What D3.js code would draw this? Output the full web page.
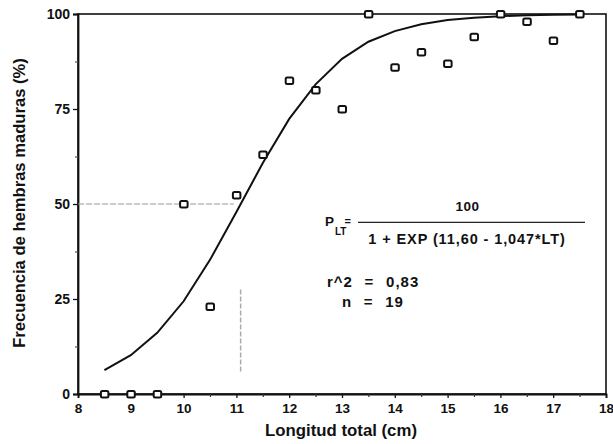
<!DOCTYPE html>
<html><head><meta charset="utf-8">
<script src="https://cdn.jsdelivr.net/npm/d3@7"></script>
<style>
body{margin:0;background:#fff;}
text{font-family:"Liberation Sans",Arial,sans-serif;font-weight:bold;fill:#111;}
</style></head><body>
<svg id="c" width="613" height="444"></svg>
<script>
// Observed data: length (cm) and % mature females
const lengths = [8.5,9,9.5,10,10.5,11,11.5,12,12.5,13,13.5,14,14.5,15,15.5,16,16.5,17,17.5];
const pctMature = [0,0,0,50,23,52.4,63,82.5,80,75,100,86,90,87,94,100,98,93,100];
// Fitted curve
const curveX = [8.5,9,9.5,10,10.5,11,11.5,12,12.5,13,13.5,14,14.5,15,15.5,16,16.5,17,17.5];
const curveY = [6.3,10.2,16.1,24.4,35.3,47.9,60.8,72.4,81.5,88.2,92.7,95.5,97.3,98.4,99.0,99.4,99.7,99.8,99.9];
const xTicks = [8,9,10,11,12,13,14,15,16,17,18];
const yTicks = [0,25,50,75,100];
const xMinor = [8.5,9.5,10.5,11.5,12.5,13.5,14.5,15.5,16.5,17.5];
const yMinor = [12.5,37.5,62.5,87.5];

const svg = d3.select("#c");
const x = d3.scaleLinear().domain([8,18]).range([78,606]);
const y = d3.scaleLinear().domain([0,100]).range([394,14]);

// frame
svg.append("rect").attr("x",x(8)).attr("y",y(100)).attr("width",x(18)-x(8)).attr("height",y(0)-y(100))
  .attr("fill","none").attr("stroke","#111").attr("stroke-width",1.6);

// axes
const xa = svg.append("g").attr("transform",`translate(0,${y(0)})`)
  .call(d3.axisBottom(x).tickValues(xTicks).tickFormat(d3.format("d")).tickSize(4).tickPadding(5));
const ya = svg.append("g").attr("transform",`translate(${x(8)},0)`)
  .call(d3.axisLeft(y).tickValues(yTicks).tickFormat(d3.format("d")).tickSize(5).tickPadding(3));
[xa,ya].forEach(g=>{g.select(".domain").attr("stroke","#111").attr("stroke-width",1.8);
  g.selectAll(".tick line").attr("stroke","#111").attr("stroke-width",1.3);
  g.selectAll("text").attr("fill","#111").attr("font-family","Liberation Sans, Arial, sans-serif").attr("font-weight","bold");});
xa.selectAll("text").attr("font-size",13.5);
ya.selectAll("text").attr("font-size",14);
svg.append("g").attr("transform",`translate(0,${y(0)})`)
  .call(d3.axisBottom(x).tickValues(xMinor).tickFormat("").tickSize(3))
  .call(g=>{g.select(".domain").remove();g.selectAll("line").attr("stroke","#333").attr("stroke-width",1.2);});
svg.append("g").attr("transform",`translate(${x(8)},0)`)
  .call(d3.axisLeft(y).tickValues(yMinor).tickFormat("").tickSize(3))
  .call(g=>{g.select(".domain").remove();g.selectAll("line").attr("stroke","#555").attr("stroke-width",1.2);});

// reference lines at 50%
svg.append("line").attr("x1",x(8)).attr("x2",x(10.95)).attr("y1",y(50)).attr("y2",y(50))
  .attr("stroke","#999").attr("stroke-width",1.2).attr("stroke-dasharray","6,2");
svg.append("line").attr("x1",x(11.08)).attr("x2",x(11.08)).attr("y1",y(27.5)).attr("y2",y(5.5))
  .attr("stroke","#aaa").attr("stroke-width",1.5).attr("stroke-dasharray","5,2");

// curve
const line = d3.line().x(d=>x(d[0])).y(d=>y(d[1]));
svg.append("path").datum(curveX.map((v,i)=>[v,curveY[i]])).attr("d",line)
  .attr("fill","none").attr("stroke","#111").attr("stroke-width",2);

// points
svg.append("g").selectAll("rect").data(lengths.map((v,i)=>[v,pctMature[i]])).join("rect")
  .attr("x",d=>x(d[0])-3.5).attr("y",d=>y(d[1])-3).attr("width",7.5).attr("height",6.5).attr("rx",1.5)
  .attr("fill","#fff").attr("stroke","#111").attr("stroke-width",2);

// axis titles
svg.append("text").attr("x",341).attr("y",436).attr("text-anchor","middle").attr("font-size",16.8).text("Longitud total (cm)");
svg.append("text").attr("transform","translate(25,203) rotate(-90)").attr("text-anchor","middle").attr("font-size",16.6).text("Frecuencia de hembras maduras (%)");

// formula
svg.append("text").attr("x",467.5).attr("y",211).attr("text-anchor","middle").attr("font-size",13.5).attr("letter-spacing",0.5).text("100");
svg.append("line").attr("x1",358).attr("x2",585).attr("y1",222.3).attr("y2",222.3).attr("stroke","#222").attr("stroke-width",1.2);
svg.append("text").attr("x",325).attr("y",225.5).attr("font-size",13.5).text("P");
svg.append("text").attr("x",335).attr("y",234.5).attr("font-size",10).text("LT");
svg.append("text").attr("x",344.5).attr("y",224.5).attr("font-size",11).text("=");
svg.append("text").attr("x",467).attr("y",243.5).attr("text-anchor","middle").attr("font-size",14.5).attr("letter-spacing",0.9).text("1 + EXP (11,60 - 1,047*LT)");
svg.append("text").attr("x",327).attr("y",286.5).attr("font-size",15).attr("letter-spacing",1).attr("word-spacing",6.5).text("r^2 = 0,83");
svg.append("text").attr("x",342).attr("y",307).attr("font-size",15).attr("letter-spacing",1).attr("word-spacing",6.5).text("n = 19");
</script></body></html>
